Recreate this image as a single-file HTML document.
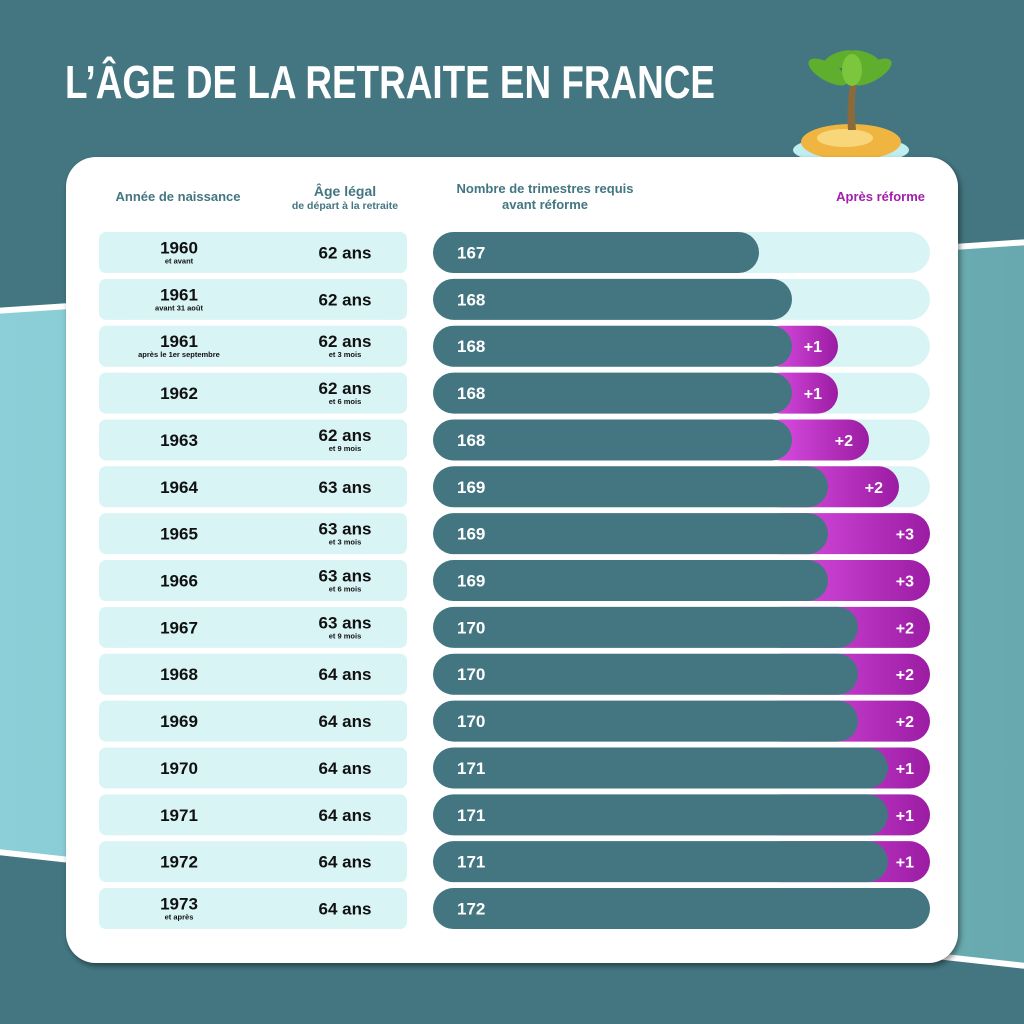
<!DOCTYPE html>
<html><head><meta charset="utf-8"><style>
html,body{margin:0;padding:0;background:#437681}
svg{display:block}
text{font-family:"Liberation Sans",sans-serif;font-weight:bold}
</style></head><body>
<svg width="1024" height="1024" viewBox="0 0 1024 1024" xmlns="http://www.w3.org/2000/svg">
<defs>
<linearGradient id="bg" x1="0" x2="1" y1="0" y2="0"><stop offset="0" stop-color="#8dd0d9"/><stop offset="1" stop-color="#66a8ad"/></linearGradient>
<linearGradient id="pg" x1="0" x2="1" y1="0" y2="0"><stop offset="0" stop-color="#e254ea"/><stop offset="1" stop-color="#9b1ca3"/></linearGradient>
<filter id="sh" x="-5%" y="-5%" width="110%" height="110%"><feDropShadow dx="2" dy="3" stdDeviation="3" flood-color="#000" flood-opacity="0.45"/></filter>
</defs>
<rect width="1024" height="1024" fill="#437681"/>
<polygon points="-20,312 1044,241 1044,968 -20,850" fill="url(#bg)" stroke="#fff" stroke-width="6"/>
<text x="65" y="98" fill="#fff" font-size="46" textLength="650" lengthAdjust="spacingAndGlyphs">L’ÂGE DE LA RETRAITE EN FRANCE</text>
<!-- island -->
<ellipse cx="851" cy="150" rx="58" ry="14" fill="#bfeef0"/>
<ellipse cx="851" cy="142" rx="50" ry="18" fill="#f0b540"/>
<ellipse cx="845" cy="138" rx="28" ry="9" fill="#f8d77a"/>
<path d="M848 130 Q846 100 852 75 L858 76 Q853 100 856 130 Z" fill="#8a6a3a"/>
<g fill="#5fae2e">
<ellipse cx="828" cy="72" rx="22" ry="9" transform="rotate(30 828 72)"/>
<ellipse cx="872" cy="72" rx="22" ry="9" transform="rotate(-30 872 72)"/>
<ellipse cx="840" cy="60" rx="18" ry="8" transform="rotate(-20 840 60)"/>
<ellipse cx="864" cy="60" rx="18" ry="8" transform="rotate(20 864 60)"/>
<ellipse cx="852" cy="70" rx="10" ry="16" fill="#7cc63e"/>
</g>
<rect x="66" y="157" width="892" height="806" rx="30" fill="#fff" filter="url(#sh)"/>
<g fill="#437681" text-anchor="middle">
<text x="178" y="201" font-size="13">Année de naissance</text>
<text x="345" y="196" font-size="14">Âge légal</text>
<text x="345" y="209" font-size="10.5">de départ à la retraite</text>
<text x="545" y="193" font-size="13">Nombre de trimestres requis</text>
<text x="545" y="209" font-size="13">avant réforme</text>
</g>
<text x="925" y="201" font-size="13" fill="#a21fae" text-anchor="end">Après réforme</text>
<g id="rows"></g>
</svg>
<script>
var d=[["1960","et avant","62 ans","",167,759,0,0],["1961","avant 31 août","62 ans","",168,792,0,0],["1961","après le 1er septembre","62 ans","et 3 mois",168,792,1,838],["1962","","62 ans","et 6 mois",168,792,1,838],["1963","","62 ans","et 9 mois",168,792,2,869],["1964","","63 ans","",169,828,2,899],["1965","","63 ans","et 3 mois",169,828,3,930],["1966","","63 ans","et 6 mois",169,828,3,930],["1967","","63 ans","et 9 mois",170,858,2,930],["1968","","64 ans","",170,858,2,930],["1969","","64 ans","",170,858,2,930],["1970","","64 ans","",171,888,1,930],["1971","","64 ans","",171,888,1,930],["1972","","64 ans","",171,888,1,930],["1973","et après","64 ans","",172,930,0,0]];
var s="";
d.forEach(function(r,i){var y=232+i*46.86,c=y+20.5;
s+='<rect x="99" y="'+y+'" width="308" height="41" rx="7" fill="#d9f4f5"/>';
s+='<rect x="433" y="'+y+'" width="497" height="41" rx="20.5" fill="#d9f4f5"/>';
if(r[6])s+='<rect x="760" y="'+y+'" width="'+(r[7]-760)+'" height="41" rx="20.5" fill="url(#pg)"/>';
s+='<rect x="433" y="'+y+'" width="'+(r[5]-433)+'" height="41" rx="20.5" fill="#437681"/>';
var yy=r[1]?c+1:c+6,ay=r[3]?c+1:c+6;
s+='<text x="179" y="'+yy+'" font-size="17" text-anchor="middle" fill="#111">'+r[0]+'</text>';
if(r[1])s+='<text x="179" y="'+(c+11)+'" font-size="7.5" text-anchor="middle" fill="#111">'+r[1]+'</text>';
s+='<text x="345" y="'+ay+'" font-size="17" text-anchor="middle" fill="#111">'+r[2]+'</text>';
if(r[3])s+='<text x="345" y="'+(c+11)+'" font-size="7.5" text-anchor="middle" fill="#111">'+r[3]+'</text>';
s+='<text x="457" y="'+(c+6)+'" font-size="17" fill="#fff">'+r[4]+'</text>';
if(r[6])s+='<text x="'+(r[7]-16)+'" y="'+(c+6)+'" font-size="16" text-anchor="end" fill="#fff">+'+r[6]+'</text>';
});
document.getElementById("rows").innerHTML=s;
</script>
</body></html>
